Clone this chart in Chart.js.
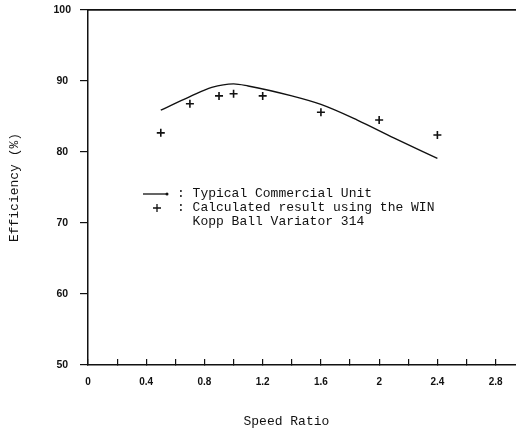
<!DOCTYPE html>
<html>
<head>
<meta charset="utf-8">
<script src="https://cdn.jsdelivr.net/npm/chart.js@4"></script>
<style>
  body { margin: 0; background: #fff; }
</style>
</head>
<body>
<canvas id="grafico" width="516" height="431"></canvas>
<script>
// typical commercial unit (solid line)
var lineX = [0.5, 0.7, 0.85, 1.0, 1.1, 1.4, 1.6, 1.85, 2.1, 2.4];
var lineY = [85.9, 87.8, 89.1, 89.6, 89.3, 87.9, 86.7, 84.5, 82.0, 79.1];

// calculated result, WIN Kopp Ball Variator 314 (+ marks)
var calcX = [0.5, 0.7, 0.9, 1.0, 1.2, 1.6, 2.0, 2.4];
var calcY = [82.7, 86.8, 87.9, 88.2, 87.9, 85.6, 84.5, 82.4];

var xTickValues = [0, 0.4, 0.8, 1.2, 1.6, 2, 2.4, 2.8];
var xTickLabels = ['0', '0.4', '0.8', '1.2', '1.6', '2', '2.4', '2.8'];
var yTickLabels = ['50', '60', '70', '80', '90', '100'];

var legendTexts = [': Typical Commercial Unit', ': Calculated result using the WIN', '  Kopp Ball Variator 314'];

function pares(xs, ys) {
  var out = [];
  for (var i = 0; i < xs.length; i++) {
    out.push({x: xs[i], y: ys[i]});
  }
  return out;
}

var mono = '"Liberation Mono", "DejaVu Sans Mono", monospace';

// legend drawn inside the plot
var legendaPlugin = {
  id: 'legenda',
  afterDraw: function (chart) {
    var ctx = chart.ctx;
    ctx.save();
    ctx.strokeStyle = '#111';
    ctx.fillStyle = '#111';
    ctx.lineWidth = 1.3;
    // line sample
    ctx.beginPath();
    ctx.moveTo(143, 194);
    ctx.lineTo(167, 194);
    ctx.stroke();
    ctx.beginPath();
    ctx.arc(167, 194, 1.5, 0, Math.PI * 2);
    ctx.fill();
    // cross sample
    ctx.beginPath();
    ctx.moveTo(153, 208); ctx.lineTo(161, 208);
    ctx.moveTo(157, 204); ctx.lineTo(157, 212);
    ctx.stroke();
    ctx.font = '13px ' + mono;
    ctx.textBaseline = 'middle';
    ctx.fillText(legendTexts[0], 177, 194);
    ctx.fillText(legendTexts[1], 177, 208);
    ctx.fillText(legendTexts[2], 177, 222);
    ctx.restore();
  }
};

function semPadding(s) {
  s.paddingTop = 0;
  s.paddingBottom = 0;
  s.paddingLeft = 0;
  s.paddingRight = 0;
}

new Chart(document.getElementById('grafico'), {
  type: 'scatter',
  data: {
    datasets: [{
      label: 'Typical Commercial Unit',
      type: 'line',
      data: pares(lineX, lineY),
      showLine: true,
      borderColor: '#111',
      borderWidth: 1.4,
      pointRadius: 0,
      cubicInterpolationMode: 'monotone',
      fill: false
    }, {
      label: 'Calculated result using the WIN Kopp Ball Variator 314',
      data: pares(calcX, calcY),
      pointStyle: 'cross',
      pointRadius: 4,
      pointBorderWidth: 1.6,
      borderColor: '#111',
      backgroundColor: '#111'
    }]
  },
  options: {
    responsive: false,
    animation: false,
    layout: { autoPadding: false, padding: { top: 10, right: 0, left: 0, bottom: 0 } },
    plugins: {
      legend: { display: false },
      tooltip: { enabled: false }
    },
    scales: {
      x: {
        type: 'linear',
        min: 0,
        max: 2.94,
        afterFit: function (s) { s.height = 66; semPadding(s); },
        border: { display: true, color: '#111', width: 1.5 },
        grid: { drawOnChartArea: false, tickLength: -6, color: '#111', lineWidth: 1.2 },
        ticks: {
          stepSize: 0.2,
          autoSkip: false,
          includeBounds: false,
          maxRotation: 0,
          padding: 17,
          color: '#111',
          font: { family: '"Liberation Sans", Arial, sans-serif', size: 10, weight: 'bold' },
          callback: function (v) {
            for (var i = 0; i < xTickValues.length; i++) {
              if (Math.abs(v - xTickValues[i]) < 1e-6) return xTickLabels[i];
            }
            return '';
          }
        },
        title: {
          display: true,
          text: 'Speed Ratio    ',
          color: '#111',
          font: { family: mono, size: 13 },
          padding: { top: 0, bottom: 2 }
        }
      },
      x2: {
        type: 'linear',
        position: 'top',
        min: 0,
        max: 2.94,
        afterFit: function (s) { s.height = 0; semPadding(s); },
        border: { display: true, color: '#111', width: 1.8 },
        grid: { display: false },
        ticks: { display: false }
      },
      y: {
        min: 50,
        max: 100,
        afterFit: function (s) { s.width = 88; semPadding(s); },
        border: { display: true, color: '#111', width: 1.5 },
        grid: { drawOnChartArea: false, tickLength: 8, color: '#111', lineWidth: 1.2 },
        ticks: {
          stepSize: 10,
          crossAlign: 'center',
          padding: 9,
          color: '#111',
          font: { family: '"Liberation Sans", Arial, sans-serif', size: 10.5, weight: 'bold' },
          callback: function (v) {
            return yTickLabels[Math.round((v - 50) / 10)];
          }
        },
        title: {
          display: true,
          text: 'Efficiency (%)',
          color: '#111',
          font: { family: mono, size: 13 },
          padding: { top: 7, bottom: 0 }
        }
      }
    }
  },
  plugins: [legendaPlugin]
});
</script>
</body>
</html>
